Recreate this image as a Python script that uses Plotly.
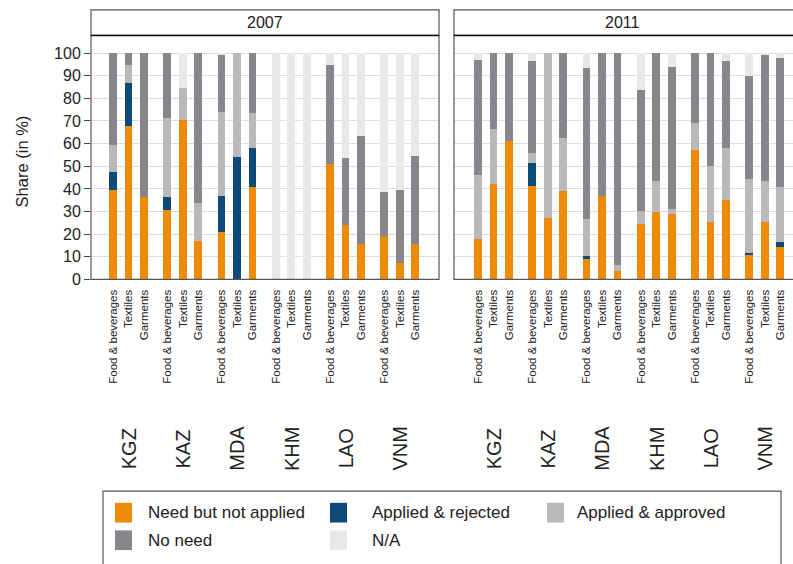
import plotly.graph_objects as go

countries = ["KGZ", "KAZ", "MDA", "KHM", "LAO", "VNM"]
sectors = ["Food & beverages", "Textiles", "Garments"]
years = ["2007", "2011"]
categories = ["Need but not applied", "Applied & rejected", "Applied & approved", "No need", "N/A"]
colors = ["#EE8A06", "#0D4A78", "#B9B9BB", "#87878B", "#E8E8EA"]

# order: KGZ(F,T,G), KAZ(F,T,G), MDA(F,T,G), KHM(F,T,G), LAO(F,T,G), VNM(F,T,G)
need_2007 = [39.3, 67.7, 36.4, 30.3, 70.2, 16.7, 20.7, 0, 40.8, 0, 0, 0, 50.9, 24.0, 15.7, 18.9, 7.0, 15.3]
rej_2007 = [8.0, 18.9, 0, 6.1, 0, 0, 16.1, 54.1, 17.0, 0, 0, 0, 0, 0, 0, 0, 0, 0]
appr_2007 = [11.7, 8.0, 0, 34.9, 14.2, 16.8, 37.0, 45.9, 15.4, 0, 0, 0, 0, 0, 0, 0, 0, 0]
noneed_2007 = [41.0, 5.4, 63.6, 28.7, 0, 66.5, 25.5, 0, 26.8, 0, 0, 0, 43.7, 29.6, 47.6, 19.5, 32.2, 39.1]
na_2007 = [0, 0, 0, 0, 15.6, 0, 0.7, 0, 0, 100, 100, 100, 5.4, 46.4, 36.7, 61.6, 60.8, 45.6]

need_2011 = [17.5, 41.9, 61.1, 41.2, 26.9, 39.0, 9.0, 36.8, 3.6, 24.3, 29.4, 28.7, 57.2, 25.2, 34.9, 10.6, 25.0, 14.3]
rej_2011 = [0, 0, 0, 10.0, 0, 0, 1.2, 0, 0, 0, 0, 0, 0, 0, 0, 1.0, 0, 2.0]
appr_2011 = [28.4, 24.3, 0, 4.5, 73.1, 23.3, 16.3, 0, 2.5, 5.8, 14.0, 2.3, 11.8, 24.9, 22.9, 32.8, 18.4, 24.2]
noneed_2011 = [50.9, 33.8, 38.9, 40.4, 0, 37.7, 66.9, 63.2, 93.9, 53.6, 56.6, 62.6, 31.0, 49.9, 38.6, 45.4, 55.9, 57.0]
na_2011 = [3.2, 0, 0, 3.9, 0, 0, 6.6, 0, 0, 16.3, 0, 6.4, 0, 0, 3.6, 10.2, 0.7, 2.5]

y_ticks = [0, 10, 20, 30, 40, 50, 60, 70, 80, 90, 100]

series = {
    "2007": [need_2007, rej_2007, appr_2007, noneed_2007, na_2007],
    "2011": [need_2011, rej_2011, appr_2011, noneed_2011, na_2011],
}

W, H = 793, 564
GSTEP = 3.5
xpos = [g * GSTEP + j for g in range(len(countries)) for j in range(len(sectors))]
xlabels = [s for _ in countries for s in sectors]

def px(x):
    return x / W

def py(y):
    return (H - y) / H

fig = go.Figure()
for yi, yr in enumerate(years):
    xa = "x" if yi == 0 else "x2"
    ya = "y" if yi == 0 else "y2"
    for ci, cat in enumerate(categories):
        fig.add_trace(go.Bar(
            x=xpos, y=series[yr][ci], name=cat, marker_color=colors[ci],
            marker_line_width=0, width=0.5, xaxis=xa, yaxis=ya,
            showlegend=False,
        ))

font_family = "Liberation Sans, Arial, sans-serif"
ydom = [py(284), py(36)]
x1dom = [px(91), px(439)]
x2dom = [px(454), 1.0]

common_x = dict(
    tickmode="array", tickvals=xpos, ticktext=xlabels, tickangle=-90,
    tickfont=dict(size=11.5, color="#222", family=font_family),
    showgrid=False, zeroline=False, showline=False, ticks="",
    ticklabelstandoff=7, fixedrange=True,
)
common_y = dict(
    range=[0, 107.8], tickvals=y_ticks, showgrid=True, gridcolor="#DCDCDC",
    gridwidth=1, zeroline=False, showline=False, fixedrange=True,
)

fig.update_layout(
    width=W, height=H, barmode="stack", bargap=0,
    margin=dict(l=0, r=0, t=0, b=0),
    paper_bgcolor="white", plot_bgcolor="white",
    font=dict(family=font_family, color="#222"),
    showlegend=False,
    xaxis=dict(domain=x1dom, range=[-1.42, 21.03], anchor="y", **common_x),
    xaxis2=dict(domain=x2dom, range=[-1.55, 20.32], anchor="y2", **common_x),
    yaxis=dict(domain=ydom, anchor="x", ticks="outside", ticklen=6, tickcolor="#444",
               tickfont=dict(size=16, color="#222", family=font_family), **common_y),
    yaxis2=dict(domain=ydom, anchor="x2", showticklabels=False, ticks="", matches="y", **common_y),
)

shapes = []
annotations = []
# panel frames and header strips
for (x0, x1), yr in [((91, 439), "2007"), ((454, 830), "2011")]:
    shapes.append(dict(type="rect", xref="paper", yref="paper", x0=px(x0), x1=px(x1),
                       y0=py(284), y1=py(36), line=dict(color="#555", width=1.2), layer="above"))
    shapes.append(dict(type="rect", xref="paper", yref="paper", x0=px(x0), x1=px(x1),
                       y0=py(36), y1=py(10), line=dict(color="#555", width=1.2),
                       fillcolor="white", layer="above"))
    shapes.append(dict(type="line", xref="paper", yref="paper", x0=px(x0), x1=px(x1),
                       y0=py(36), y1=py(36), line=dict(color="#111", width=1.5), layer="above"))

for yr, cx in [("2007", 265), ("2011", 622)]:
    annotations.append(dict(text=yr, xref="paper", yref="paper", x=px(cx), y=py(23),
                            xanchor="center", yanchor="middle",
                            showarrow=False, font=dict(size=16, color="#222")))

# country labels
for yi, xa in enumerate(["x", "x2"]):
    for g, c in enumerate(countries):
        annotations.append(dict(text=c, xref=xa, yref="paper", x=g * GSTEP + 1, y=py(456),
                                xanchor="center", yanchor="middle",
                                textangle=-90, showarrow=False,
                                font=dict(size=20, color="#222")))

# y title
annotations.append(dict(text="Share (in %)", xref="paper", yref="paper", x=px(22), y=py(164),
                        xanchor="center", yanchor="middle",
                        textangle=-90, showarrow=False, font=dict(size=16.5, color="#222")))

# legend box
shapes.append(dict(type="rect", xref="paper", yref="paper", x0=px(103), x1=px(781),
                   y0=py(600), y1=py(499), line=dict(color="#555", width=1.2)))
legend_pos = [(115, 521, 146), (330, 521, 370), (547, 521, 575), (115, 549, 146), (330, 549, 370)]
for ci, cat in enumerate(categories):
    sx, cy, tx = legend_pos[ci]
    shapes.append(dict(type="rect", xref="paper", yref="paper", x0=px(sx), x1=px(sx + 17),
                       y0=py(cy + 10), y1=py(cy - 10), line=dict(width=0), fillcolor=colors[ci]))
    annotations.append(dict(text=cat, xref="paper", yref="paper", x=px(tx), y=py(cy),
                            xanchor="left", yanchor="middle", showarrow=False,
                            font=dict(size=17, color="#222")))

fig.update_layout(shapes=shapes, annotations=annotations)
post = (
    "document.documentElement.style.margin='0';document.documentElement.style.overflow='hidden';"
    "document.body.style.margin='0';document.body.style.overflow='hidden';"
    "var d=document.getElementById('{plot_id}');"
    "d.style.position='fixed';d.style.top='0px';d.style.left='0px';"
)
fig.write_html("out.html", config={"displayModeBar": False}, post_script=post)
